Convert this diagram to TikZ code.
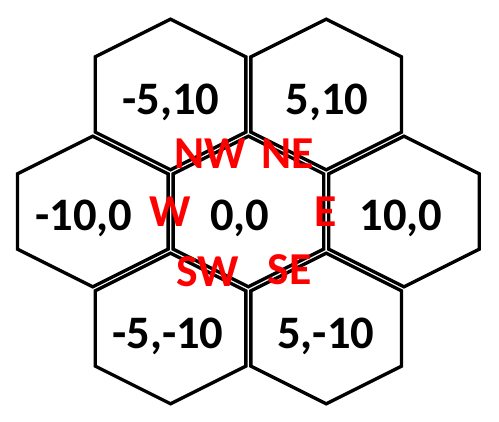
\documentclass[tikz,border=0pt]{standalone}
\usepackage{fontspec}
\setmainfont{Carlito}
\usepackage{tikz}
\usetikzlibrary{calc}
\definecolor{rougeDir}{RGB}{255, 0, 0}

\begin{document}
\begin{tikzpicture}[
  hexa/.style={draw=black, line width=1.9pt, line join=miter},
  coord/.style={font=\fontsize{26.5}{30}\selectfont\bfseries,
    text depth=0pt, inner sep=0pt},
  dir/.style={font=\fontsize{26}{30}\selectfont\bfseries,
    text=rougeDir, text depth=0pt, inner sep=0pt},
]
\useasboundingbox (-4.968, 4.23) rectangle (5.012, -4.21);
% centres of the seven cells
\coordinate (cNW) at (-1.556,  2.34);
\coordinate (cNE) at ( 1.556,  2.34);
\coordinate (cW)  at (-3.112,  0);
\coordinate (cO)  at ( 0,      0);
\coordinate (cE)  at ( 3.112,  0);
\coordinate (cSW) at (-1.556, -2.34);
\coordinate (cSE) at ( 1.556, -2.34);
\foreach \c in {cNW, cNE, cW, cO, cE, cSW, cSE}
  \draw[hexa] (\c) ++(0,1.506) -- ++(-1.506,-0.753) -- ++(0,-1.506)
    -- ++(1.506,-0.753) -- ++(1.506,0.753) -- ++(0,1.506) -- cycle;
% cell coordinates
\node[coord] (lNW) at (-1.55,  2.25) {-5,10};
\node[coord] (lNE) at ( 1.57,  2.25) {5,10};
\node[coord] (lW)  at (-3.29, -0.07) {-10,0};
\node[coord] (lO)  at (-0.17, -0.07) {0,0};
\node[coord] (lE)  at ( 3.05, -0.07) {10,0};
\node[coord] (lSW) at (-1.61, -2.43) {-5,-10};
\node[coord] (lSE) at ( 1.55, -2.43) {5,-10};
% directions
\node[dir] (dNW) at (-0.77,  1.15) {NW};
\node[dir] (dNE) at ( 0.79,  1.15) {NE};
\node[dir] (dW)  at (-1.57, -0.01) {W};
\node[dir] (dE)  at ( 1.55, -0.01) {E};
\node[dir] (dSW) at (-0.81, -1.21) {SW};
\node[dir] (dSE) at ( 0.83, -1.17) {SE};
\end{tikzpicture}
\end{document}
